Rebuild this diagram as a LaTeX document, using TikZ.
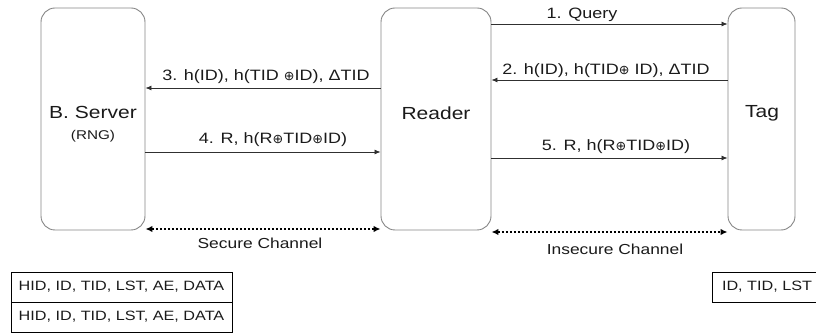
\documentclass[tikz,border=0pt]{standalone}
\usepackage{fontspec}
\usepackage{graphicx}
\setmainfont{Liberation Sans}[FakeStretch=1.2]
\newfontfamily\symfont{DejaVu Sans}
\usetikzlibrary{arrows.meta}
\definecolor{boxgray}{HTML}{858585}
\definecolor{linegray}{HTML}{303030}
\definecolor{txt}{HTML}{1A1A1A}
% small XOR sign
\newcommand{\xo}{{\symfont\scalebox{0.85}{⊕}}}
\begin{document}
\begin{tikzpicture}[x=1pt,y=-1pt,
  party/.style={draw=boxgray, line width=0.9pt, rounded corners=14pt, inner sep=0pt, minimum height=222pt},
  msg/.style={draw=linegray, line width=0.8pt, -{Latex[length=6pt,width=5pt]}},
  chan/.style={draw=black, line width=2pt, dash pattern=on 2pt off 2pt,
    {Latex[length=7pt,width=6.5pt]}-{Latex[length=7pt,width=6.5pt]}},
  lab/.style={font=\fontsize{15}{18}\selectfont, inner sep=0pt, text=txt},
  big/.style={font=\fontsize{17.5}{20}\selectfont, inner sep=0pt, text=txt},
  cell/.style={draw=black, line width=0.9pt, minimum height=30pt, inner sep=0pt},
  celltext/.style={font=\fontsize{13.5}{16}\selectfont, inner sep=0pt, text=txt}]
\useasboundingbox (0,0) rectangle (816,336);

% parties
\node[party, minimum width=104pt] (server) at (93,119) {};
\node[party, minimum width=110pt] (reader) at (436,119) {};
\node[party, minimum width=67pt]  (tag)    at (761.5,119) {};

\node[big] (servername) at (93,112) {B. Server};
\node[lab, font=\fontsize{12.7}{15}\selectfont] (rng) at (93,136) {(RNG)};
\node[big] (readername) at (436,113) {Reader};
\node[big] (tagname) at (762,113) {Tag};

% message levels
\coordinate (y1) at (0,24);
\coordinate (y2) at (0,80);
\coordinate (y3) at (0,88);
\coordinate (y4) at (0,152);
\coordinate (y5) at (0,158);
\coordinate (ys) at (0,229);
\coordinate (yi) at (0,232);

% messages
\draw[msg] (reader.east |- y1) -- (tag.west |- y1);
\draw[msg] (tag.west |- y2) -- (reader.east |- y2);
\draw[msg] (reader.west |- y3) -- (server.east |- y3);
\draw[msg] (server.east |- y4) -- (reader.west |- y4);
\draw[msg] (reader.east |- y5) -- (tag.west |- y5);

\node[lab] (m1) at (582,15) {1. Query};
\node[lab] (m2) at (606,71) {2. h(ID), h(TID\xo\ ID), ΔTID};
\node[lab] (m3) at (266,77) {3. h(ID), h(TID \xo ID), ΔTID};
\node[lab] (m4) at (273,140) {4. R, h(R\xo TID\xo ID)};
\node[lab] (m5) at (616,147) {5. R, h(R\xo TID\xo ID)};

% channels
\draw[chan] (server.east |- ys) -- (reader.west |- ys);
\draw[chan] (reader.east |- yi) -- (tag.west |- yi);
\node[lab, font=\fontsize{14.5}{17}\selectfont] (sec) at (260,243) {Secure Channel};
\node[lab, font=\fontsize{14.5}{17}\selectfont] (insec) at (615,249) {Insecure Channel};

% stored data
\node[cell, minimum width=221pt] (db1) at (121.5,287) {};
\node[cell, minimum width=221pt] (db2) at (121.5,317) {};
\node[celltext] (db1t) at (db1) {HID, ID, TID, LST, AE, DATA};
\node[celltext] (db2t) at (db2) {HID, ID, TID, LST, AE, DATA};
\node[cell, minimum width=112pt, anchor=west] (mem) at (712,287) {};
\node[celltext] (memt) at (767,287) {ID, TID, LST};
\end{tikzpicture}
\end{document}
